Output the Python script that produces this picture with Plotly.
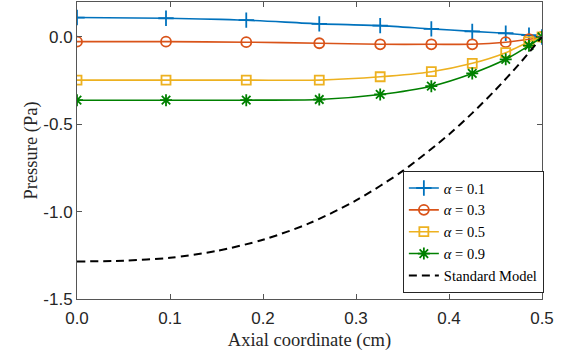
import plotly.graph_objects as go

# ---- data ----
x_pts = [0.0, 0.0957, 0.182, 0.2605, 0.326, 0.381, 0.425, 0.461, 0.486, 0.5]
p_a01 = [0.111, 0.107, 0.096, 0.075, 0.065, 0.046, 0.032, 0.021, 0.010, 0.0]
p_a03 = [-0.027, -0.027, -0.030, -0.036, -0.042, -0.042, -0.042, -0.030, -0.013, 0.0]
p_a05 = [-0.247, -0.247, -0.247, -0.247, -0.228, -0.199, -0.151, -0.090, -0.027, 0.0]
p_a09 = [-0.362, -0.362, -0.362, -0.358, -0.329, -0.282, -0.209, -0.128, -0.050, 0.0]

x_std = [0.0, 0.05, 0.1, 0.15, 0.2, 0.25, 0.3, 0.35, 0.4, 0.425, 0.45, 0.475, 0.5]
p_std = [-1.285, -1.281, -1.264, -1.225, -1.161, -1.066, -0.936, -0.768, -0.558,
         -0.436, -0.303, -0.158, 0.0]

x_ticks = [0.0, 0.1, 0.2, 0.3, 0.4, 0.5]
x_ticktext = ["0.0", "0.1", "0.2", "0.3", "0.4", "0.5"]
y_ticks = [-1.5, -1.0, -0.5, 0.0]
y_ticktext = ["-1.5", "-1.0", "-0.5", "0.0"]

names = ["<i>α</i> = 0.1", "<i>α</i> = 0.3", "<i>α</i> = 0.5", "<i>α</i> = 0.9"]
colors = ["#0072BD", "#D95319", "#EDB120", "#008000"]
symbols = ["cross-thin-open", "circle-open", "square-open", "asterisk-open"]
sizes = [11, 10, 9, 10]
series = [p_a01, p_a03, p_a05, p_a09]

SERIF = "Liberation Serif"
SANS = "Liberation Sans"

fig = go.Figure()
for nm, c, s, sz, ys in zip(names, colors, symbols, sizes, series):
    fig.add_trace(go.Scatter(
        x=x_pts, y=ys, name=nm, mode="lines+markers",
        line=dict(color=c, width=1.6, shape="spline", smoothing=0.8),
        marker=dict(symbol=s, size=sz, color=c, line=dict(color=c, width=1.8)),
    ))

fig.add_trace(go.Scatter(
    x=x_std, y=p_std, name="Standard Model", mode="lines",
    line=dict(color="black", width=2, dash="8px,5px", shape="spline", smoothing=0.8),
))

axis_common = dict(
    showgrid=False, zeroline=False, showline=True, linecolor="#555555", linewidth=1,
    mirror="ticks", ticks="inside", ticklen=5, tickwidth=1, tickcolor="#555555",
    tickfont=dict(family=SANS, size=17, color="#262626"), automargin=False,
)

fig.update_layout(
    width=567, height=354,
    margin=dict(l=77, r=25, t=2, b=55),
    paper_bgcolor="white", plot_bgcolor="white",
    xaxis=dict(range=[0, 0.5], tickvals=x_ticks, ticktext=x_ticktext,
               ticklabelstandoff=4,
               title=dict(text="Axial coordinate (cm)", standoff=5,
                          font=dict(family=SERIF, size=18.5, color="#262626")),
               **axis_common),
    yaxis=dict(range=[-1.5, 0.2], tickvals=y_ticks, ticktext=y_ticktext,
               title=dict(text="Pressure (Pa)", standoff=0,
                          font=dict(family=SERIF, size=18.5, color="#262626")),
               **axis_common),
    yaxis2=dict(range=[-1.5, 0.2], overlaying="y", side="left", showline=False,
                showgrid=False, zeroline=False, ticks="inside", ticklen=8,
                tickwidth=1.5, tickcolor="#262626", automargin=False,
                tickvals=[p_std[0]], ticktext=[""]),
    legend=dict(x=1.004, xanchor="right", y=0.02, yanchor="bottom",
                bgcolor="white", bordercolor="#262626", borderwidth=1,
                font=dict(family=SERIF, size=14.5, color="black"),
                itemwidth=30, tracegroupgap=0),
    showlegend=True,
)

fig.write_html("out.html", post_script="document.body.style.margin='0';",
               config={"displayModeBar": False})
